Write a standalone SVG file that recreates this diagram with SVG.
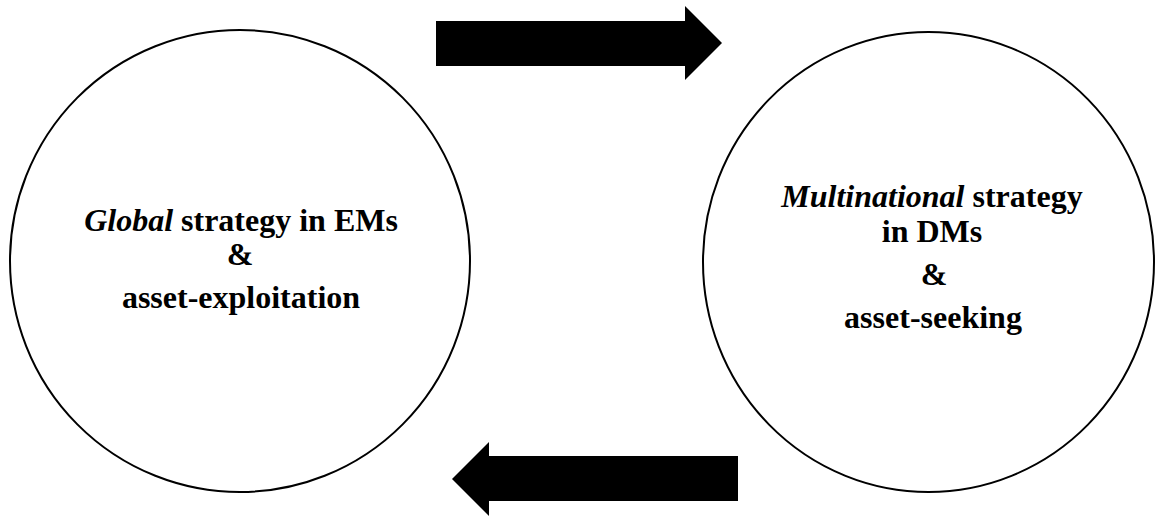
<svg xmlns="http://www.w3.org/2000/svg" width="1155" height="516" viewBox="0 0 1155 516">
  <style>
    .node { fill: #ffffff; stroke: #000000; stroke-width: 2; }
    .lbl { font-family: "Liberation Serif", "Times New Roman", serif; font-size: 32px; font-weight: bold; fill: #000000; text-anchor: middle; }
    .it { font-style: italic; }
    .arrow { fill: #000000; stroke: none; }
  </style>
  <rect x="0" y="0" width="1155" height="516" fill="#ffffff"/>
  <g id="node-global">
    <ellipse class="node" cx="240" cy="261" rx="230" ry="231"/>
    <text class="lbl" x="241" y="231"><tspan class="it">Global</tspan> strategy in EMs</text>
    <text class="lbl" x="240" y="265">&amp;</text>
    <text class="lbl" x="241" y="308">asset-exploitation</text>
  </g>
  <g id="node-multinational">
    <ellipse class="node" cx="928.5" cy="262" rx="225.5" ry="230"/>
    <text class="lbl" x="932" y="207"><tspan class="it">Multinational</tspan> strategy</text>
    <text class="lbl" x="932" y="242">in DMs</text>
    <text class="lbl" x="934" y="285">&amp;</text>
    <text class="lbl" x="933" y="328">asset-seeking</text>
  </g>
  <g id="connectors">
    <polygon class="arrow" points="436,21 685,21 685,6 722,43 685,80 685,66 436,66"/>
    <polygon class="arrow" points="738,456 489,456 489,442 452,479 489,516 489,501 738,501"/>
  </g>
</svg>
